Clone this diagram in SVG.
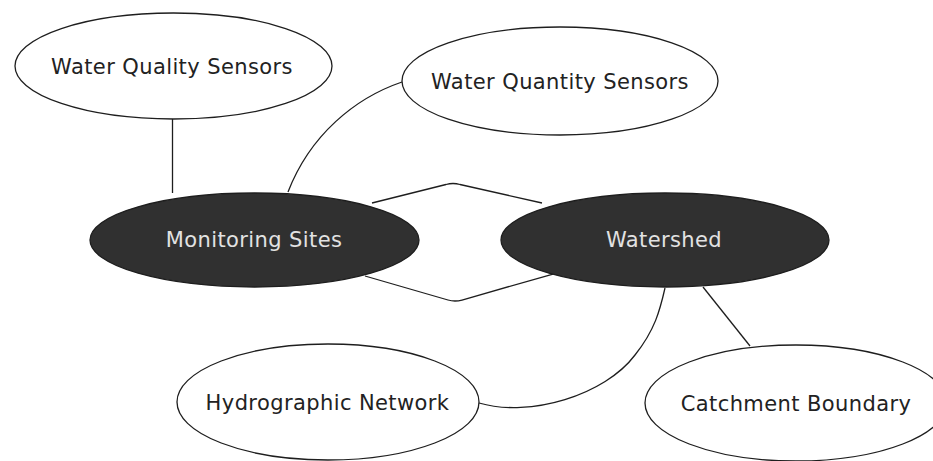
<svg xmlns="http://www.w3.org/2000/svg" width="933" height="461" viewBox="0 0 933 461">
<style>
.edge{fill:none;stroke:#1e1e1e;stroke-width:1.3;stroke-linejoin:round}
.light ellipse{fill:#ffffff;stroke:#1e1e1e;stroke-width:1.3}
.dark ellipse{fill:#303030;stroke:#1e1e1e;stroke-width:1.3}
text{font-family:"DejaVu Sans","Liberation Sans",sans-serif;font-size:21px;letter-spacing:0.4px;text-anchor:middle}
.light text{fill:#222222}
.dark text{fill:#e2e2e2}
</style>
<rect width="933" height="461" fill="#ffffff"/>
<g id="connectors">
<path class="edge" d="M172.5,119 L172.5,193"/>
<path class="edge" d="M402,82 C355,98 310,135 288,192"/>
<path class="edge" d="M372,203 L446,184.5 Q453,182.5 460,184.5 L542,203"/>
<path class="edge" d="M365,276 L448,300 Q455,302 462,300 L553,274"/>
<path class="edge" d="M479,403 C530,418 605,395 635,355 C655,330 660,310 665,288"/>
<path class="edge" d="M703,287 L750,346"/>
</g>
<g id="water-quality-sensors" class="light">
<ellipse cx="173.5" cy="66" rx="158.5" ry="53"/>
<text x="172" y="74">Water Quality Sensors</text>
</g>
<g id="water-quantity-sensors" class="light">
<ellipse cx="560" cy="81" rx="158" ry="54"/>
<text x="560" y="89">Water Quantity Sensors</text>
</g>
<g id="monitoring-sites" class="dark">
<ellipse cx="254.5" cy="240" rx="164.5" ry="47"/>
<text x="254" y="247">Monitoring Sites</text>
</g>
<g id="watershed" class="dark">
<ellipse cx="665" cy="240" rx="164" ry="47"/>
<text x="664" y="247">Watershed</text>
</g>
<g id="hydrographic-network" class="light">
<ellipse cx="328" cy="402" rx="151" ry="58"/>
<text x="327.5" y="410">Hydrographic Network</text>
</g>
<g id="catchment-boundary" class="light">
<ellipse cx="796" cy="403" rx="151" ry="58"/>
<text x="796" y="411">Catchment Boundary</text>
</g>
</svg>
